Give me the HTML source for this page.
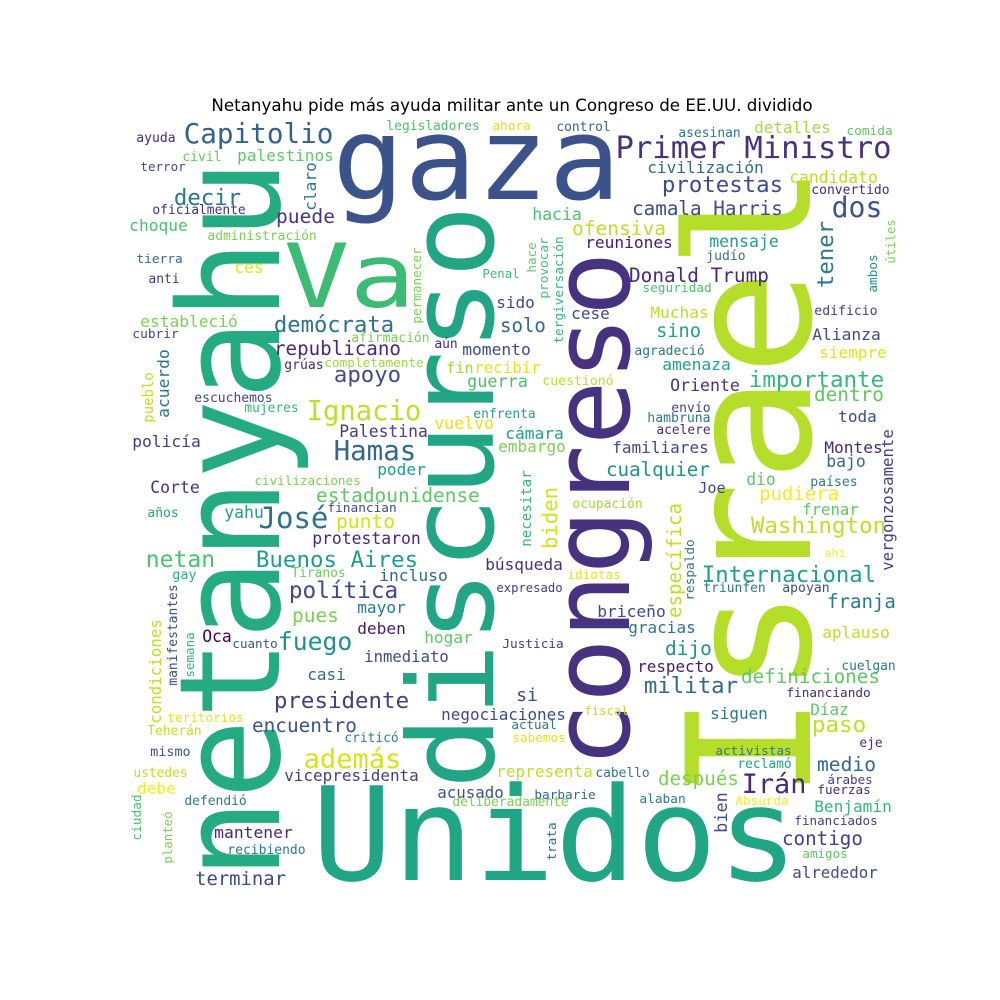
<!DOCTYPE html>
<html><head><meta charset="utf-8">
<style>
html,body{margin:0;padding:0;background:#fff;}
svg{display:block;}
text{font-family:"DejaVu Sans Mono","Liberation Mono",monospace;}
</style></head>
<body>
<svg id="cloud" width="1000" height="1000" viewBox="0 0 1000 1000" xmlns="http://www.w3.org/2000/svg">
<rect width="1000" height="1000" fill="#fff"/>
<text x="512" y="111" text-anchor="middle" font-size="16.7" style="font-family:'DejaVu Sans','Liberation Sans',sans-serif" fill="#000">Netanyahu pide más ayuda militar ante un Congreso de EE.UU. dividido</text>
<g id="words"></g>
</svg>
<script>
// [text, x, y, length, color, vertical, fixedSize]
const rows = [
['gaza',338,199,277,'#3b528b',0,115],
['Va',288,307,123,'#3cbb75',0,88],
['Unidos',318,880,474,'#21a685',0,130],
['netanyahu',279,872,705,'#25ab82',1,140],
['discurso',493,783,572,'#21a585',1,119],
['congreso',629,762,505,'#46327e',1,108],
['Israel',810,792,620,'#b5de2b',1,172],
['ayuda',137,142,38,'#482878',0,0],
['Capitolio',185,143,147,'#33638d',0,0],
['legisladores',387,130,92,'#48c16e',0,0],
['ahora',493,130,37,'#d8e219',0,0],
['civil',183,161,38,'#5ec962',0,0],
['palestinos',238,161,95,'#5ec962',0,0],
['terror',141,171,44,'#3e4a89',0,0],
['decir',175,205,65,'#2a788e',0,0],
['oficialmente',153,214,92,'#472d7b',0,0],
['puede',277,223,57,'#46337f',0,0],
['choque',130,231,57,'#4ac16d',0,0],
['administración',208,240,108,'#7ad151',0,0],
['tierra',137,263,45,'#31688e',0,0],
['ces',235,273,28,'#e5e419',0,0],
['anti',149,283,30,'#443a83',0,0],
['Penal',483,278,36,'#3fbc73',0,0],
['estableció',141,327,96,'#7ad151',0,0],
['demócrata',275,332,118,'#2c728e',0,0],
['cubrir',133,338,45,'#414487',0,0],
['afirmación',352,342,77,'#7ad151',0,0],
['aún',435,348,22,'#482878',0,0],
['republicano',275,355,125,'#482878',0,0],
['grúas',285,369,38,'#482878',0,0],
['completamente',325,367,98,'#a0da39',0,0],
['apoyo',335,382,65,'#3e4c8a',0,0],
['escuchemos',195,402,77,'#414487',0,0],
['mujeres',245,412,53,'#35b779',0,0],
['Ignacio',308,420,112,'#bddf26',0,0],
['vuelvo',435,429,58,'#e5e419',0,0],
['policía',133,447,67,'#443983',0,0],
['Palestina',340,437,87,'#433e85',0,0],
['Hamas',335,460,80,'#31688e',0,0],
['poder',378,475,47,'#1fa187',0,0],
['civilizaciones',255,485,105,'#7ad151',0,0],
['Corte',151,493,48,'#46337f',0,0],
['estadounidense',317,502,162,'#5ec962',0,0],
['años',148,517,30,'#20a386',0,0],
['financian',328,512,68,'#3e4a89',0,0],
['yahu',225,518,38,'#1f9e89',0,0],
['José',260,528,67,'#2c728e',0,0],
['punto',337,528,57,'#d2e21b',0,0],
['protestaron',313,544,107,'#482878',0,0],
['netan',147,567,67,'#4ac16d',0,0],
['Buenos Aires',257,567,160,'#1f9e89',0,0],
['búsqueda',486,570,76,'#46337f',0,0],
['gay',173,579,23,'#2ab07f',0,0],
['Tiranos',292,577,53,'#6ccd5a',0,0],
['incluso',380,581,67,'#31688e',0,0],
['política',290,598,107,'#3e4a89',0,0],
['pues',293,622,45,'#7ad151',0,0],
['mayor',358,613,47,'#2a788e',0,0],
['Oca',203,642,28,'#440154',0,0],
['cuanto',233,648,44,'#3b528b',0,0],
['fuego',279,650,72,'#21918c',0,0],
['deben',358,634,47,'#481a6c',0,0],
['hogar',425,643,47,'#5ec962',0,0],
['inmediato',365,662,83,'#3e4a89',0,0],
['casi',308,680,37,'#31688e',0,0],
['presidente',275,708,133,'#433e85',0,0],
['negociaciones',442,720,123,'#3e4a89',0,0],
['teritorios',168,722,75,'#e5e419',0,0],
['Teherán',148,735,53,'#c2df23',0,0],
['encuentro',253,732,103,'#3b528b',0,0],
['criticó',345,742,53,'#26828e',0,0],
['mismo',151,756,39,'#3b528b',0,0],
['además',305,768,95,'#d8e219',0,0],
['ustedes',134,777,53,'#c2df23',0,0],
['vicepresidenta',285,781,133,'#433e85',0,0],
['debe',138,794,37,'#fde725',0,0],
['acusado',438,798,65,'#3b528b',0,0],
['deliberadamente',453,806,115,'#7ad151',0,0],
['defendió',185,805,61,'#2a788e',0,0],
['mantener',215,838,77,'#482878',0,0],
['recibiendo',228,854,77,'#2a788e',0,0],
['terminar',196,885,89,'#3e4a89',0,0],
['control',557,131,53,'#31688e',0,0],
['asesinan',679,137,61,'#2a788e',0,0],
['detalles',755,133,75,'#a5db36',0,0],
['comida',847,135,45,'#5ec962',0,0],
['Primer Ministro',617,158,273,'#46327e',0,0],
['civilización',648,173,115,'#31688e',0,0],
['protestas',663,192,119,'#3e4a89',0,0],
['candidato',790,183,87,'#bddf26',0,0],
['convertido',812,194,77,'#482878',0,0],
['camala Harris',633,215,149,'#3e4a89',0,0],
['dos',833,217,48,'#3b528b',0,0],
['hacia',533,220,48,'#4ac16d',0,0],
['ofensiva',573,235,92,'#bddf26',0,0],
['reuniones',586,248,86,'#481a6c',0,0],
['mensaje',710,247,68,'#1fa187',0,0],
['judío',707,260,38,'#3e6b8d',0,0],
['Donald Trump',630,282,138,'#482878',0,0],
['seguridad',643,292,68,'#4ac16d',0,0],
['sido',497,308,37,'#3e4a89',0,0],
['solo',501,332,44,'#31688e',0,0],
['cese',572,319,37,'#3e4a89',0,0],
['Muchas',651,318,57,'#bddf26',0,0],
['sino',657,337,43,'#1fa187',0,0],
['Alianza',813,340,67,'#3e4a89',0,0],
['edificio',815,315,62,'#433e85',0,0],
['agradeció',635,355,69,'#2a788e',0,0],
['siempre',820,358,66,'#e2e418',0,0],
['amenaza',663,370,67,'#1fa187',0,0],
['momento',463,355,67,'#3e4a89',0,0],
['fin',447,373,26,'#a0da39',0,0],
['recibir',475,373,65,'#e5e419',0,0],
['guerra',468,387,59,'#4ac16d',0,0],
['cuestionó',543,385,70,'#bddf26',0,0],
['importante',750,387,133,'#35b779',0,0],
['Oriente',671,391,68,'#46337f',0,0],
['dentro',815,401,68,'#5ec962',0,0],
['enfrenta',474,418,61,'#2a9d8f',0,0],
['envío',672,412,38,'#3e4a89',0,0],
['hambruna',648,422,62,'#2a788e',0,0],
['toda',839,422,37,'#3e4a89',0,0],
['acelere',657,434,53,'#482878',0,0],
['cámara',506,439,57,'#1fa187',0,0],
['embargo',499,452,66,'#7ad151',0,0],
['familiares',613,453,95,'#3e4a89',0,0],
['Montes',825,453,57,'#482878',0,0],
['bajo',827,467,38,'#31688e',0,0],
['cualquier',607,476,102,'#21918c',0,0],
['dio',747,485,28,'#5ec962',0,0],
['países',811,486,46,'#2a788e',0,0],
['Joe',699,493,26,'#3e4a89',0,0],
['pudiera',760,500,78,'#fde725',0,0],
['frenar',803,515,55,'#5ec962',0,0],
['ocupación',573,508,69,'#a0da39',0,0],
['Washington',752,533,133,'#bddf26',0,0],
['ahí',825,557,20,'#fde725',0,0],
['Internacional',703,582,172,'#1fa187',0,0],
['idiotas',568,579,52,'#e5e419',0,0],
['expresado',497,592,65,'#443a83',0,0],
['triunfen',704,592,61,'#2a788e',0,0],
['apoyan',783,592,46,'#3e4a89',0,0],
['franja',828,608,67,'#2a788e',0,0],
['briceño',598,617,67,'#3e4a89',0,0],
['gracias',629,633,66,'#2a788e',0,0],
['aplauso',823,638,66,'#bddf26',0,0],
['Justicia',503,648,60,'#433e85',0,0],
['dijo',666,655,45,'#21918c',0,0],
['respecto',638,672,75,'#481a6c',0,0],
['cuelgan',842,670,53,'#2a788e',0,0],
['definiciones',742,683,137,'#5ec962',0,0],
['militar',645,693,92,'#31688e',0,0],
['financiando',787,697,83,'#482878',0,0],
['si',517,701,20,'#3e4a89',0,0],
['fiscal',585,715,43,'#bddf26',0,0],
['Díaz',811,715,37,'#5ec962',0,0],
['siguen',711,719,56,'#2a788e',0,0],
['paso',813,732,52,'#bddf26',0,0],
['actual',512,729,44,'#2a788e',0,0],
['sabemos',513,742,52,'#e5e419',0,0],
['eje',860,747,22,'#482878',0,0],
['activistas',716,755,75,'#2a788e',0,0],
['medio',818,771,57,'#31688e',0,0],
['reclamó',738,768,53,'#1fa187',0,0],
['representa',497,777,95,'#bddf26',0,0],
['cabello',596,777,53,'#2a788e',0,0],
['árabes',828,784,44,'#433e85',0,0],
['después',659,785,79,'#7ad151',0,0],
['Irán',743,793,62,'#482878',0,0],
['fuerzas',818,794,52,'#482878',0,0],
['barbarie',535,799,60,'#31688e',0,0],
['alaban',640,803,45,'#2a788e',0,0],
['Absurda',736,805,52,'#fde725',0,0],
['Benjamín',815,812,76,'#35b779',0,0],
['financiados',795,825,82,'#433e85',0,0],
['contigo',783,845,79,'#433e85',0,0],
['amigos',803,858,44,'#5ec962',0,0],
['alrededor',793,878,84,'#3e4a89',0,0],
['claro',316,210,47,'#2a788e',1,0],
['permanecer',421,323,75,'#7ad151',1,0],
['acuerdo',169,417,67,'#2c728e',1,0],
['pueblo',153,422,49,'#bddf26',1,0],
['condiciones',161,723,103,'#bddf26',1,0],
['manifestantes',177,685,100,'#3e4a89',1,0],
['semana',194,677,44,'#35b779',1,0],
['ciudad',141,840,45,'#4ac16d',1,0],
['planteó',172,863,51,'#7ad151',1,0],
['tener',833,287,65,'#2a788e',1,0],
['útiles',895,263,43,'#7ad151',1,0],
['ambos',877,292,37,'#21918c',1,0],
['hace',536,272,29,'#5ec962',1,0],
['provocar',548,298,60,'#4ac16d',1,0],
['tergiversación',563,343,106,'#35b779',1,0],
['vergonzosamente',893,570,140,'#433e85',1,0],
['necesitar',531,546,75,'#35b779',1,0],
['biden',557,548,60,'#d2e21b',1,0],
['específica',681,617,113,'#bddf26',1,0],
['respaldo',694,600,60,'#2a788e',1,0],
['bien',727,832,39,'#3e4a89',1,0],
['trata',556,860,37,'#2a788e',1,0]
];
const wordText = rows.map(r => r[0]);
const wordX = rows.map(r => r[1]);
const wordY = rows.map(r => r[2]);
const wordLen = rows.map(r => r[3]);
const wordColor = rows.map(r => r[4]);
const wordVertical = rows.map(r => r[5]);
const wordSize = rows.map(r => r[6]);

const NS = 'http://www.w3.org/2000/svg';
const g = document.getElementById('words');
wordText.forEach((t, i) => {
  const n = [...t].length;
  const s = wordSize[i] || wordLen[i] / (0.602 * n - 0.1);
  const el = document.createElementNS(NS, 'text');
  el.textContent = t;
  el.setAttribute('font-size', s.toFixed(1));
  el.setAttribute('fill', wordColor[i]);
  el.setAttribute('textLength', (wordLen[i] + 0.1 * s).toFixed(1));
  el.setAttribute('lengthAdjust', 'spacingAndGlyphs');
  if (wordVertical[i]) {
    const X = wordX[i], Y = wordY[i] + 0.05 * s;
    el.setAttribute('x', X);
    el.setAttribute('y', Y);
    el.setAttribute('transform', 'rotate(-90 ' + X + ' ' + Y + ')');
  } else {
    el.setAttribute('x', (wordX[i] - 0.05 * s).toFixed(1));
    el.setAttribute('y', wordY[i]);
  }
  
  
  g.appendChild(el);
});
</script>
</body></html>
